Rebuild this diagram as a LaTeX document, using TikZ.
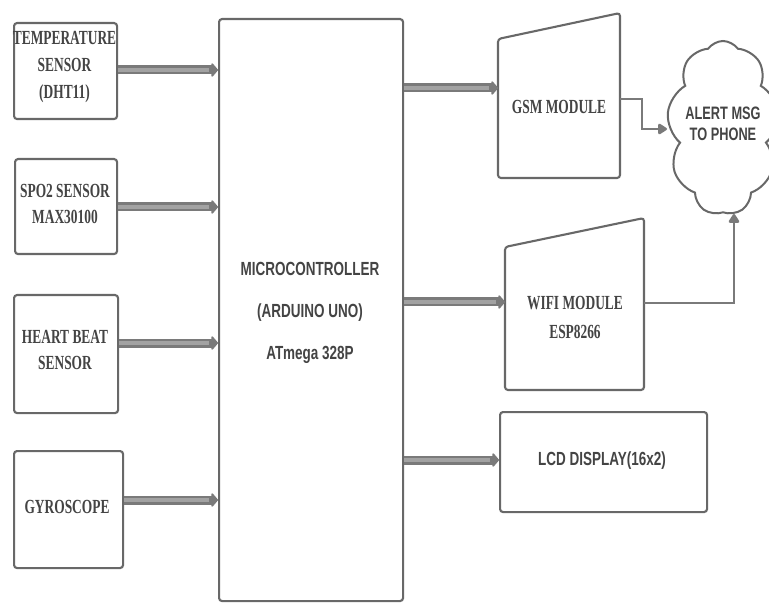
\documentclass[tikz,border=0pt]{standalone}
\usepackage{fontspec}
\usetikzlibrary{shapes.symbols,arrows.meta,calc}
\newfontfamily\serfont[FakeStretch=0.67]{Liberation Serif}
\newfontfamily\sanfont[FakeStretch=0.71]{Liberation Sans}
\definecolor{edgec}{HTML}{686868}
\definecolor{txtc}{HTML}{444444}
\definecolor{arrdark}{HTML}{7A7A7A}
\definecolor{arrlight}{HTML}{A2A2A2}
\begin{document}
\begin{tikzpicture}[x=1pt,y=-1pt,
  box/.style={draw=edgec, line width=2.1pt, rounded corners=3pt, fill=white},
  sertext/.style={font=\serfont\bfseries\fontsize{20}{26}\selectfont, text=txtc, align=center, inner sep=0pt},
  santext/.style={font=\sanfont\bfseries\fontsize{19}{42}\selectfont, text=txtc, align=center, inner sep=0pt},
  busout/.style={draw=arrdark, line width=9pt, -{Triangle[round,length=7pt,width=16pt]}},
  busin/.style={draw=arrlight, line width=4pt},
  link/.style={draw=arrdark, line width=2.6pt, -{Triangle[round,length=10pt,width=12pt]}}
]
\useasboundingbox (0,0) rectangle (769,604);
\fill[white] (0,0) rectangle (769,604);

% left sensor boxes
\node[box, anchor=north west, minimum width=103pt, minimum height=96pt] (temp) at (13,22) {};
\node[sertext, font=\serfont\bfseries\fontsize{20}{27}\selectfont] (temptxt) at (64.5,67) {TEMPERATURE\\SENSOR\\(DHT11)};
\node[box, anchor=north west, minimum width=102pt, minimum height=95pt] (spo) at (14,158) {};
\node[sertext] (spotxt) at (65,204) {SPO2 SENSOR\\MAX30100};
\node[box, anchor=north west, minimum width=104pt, minimum height=118pt] (heart) at (13,294) {};
\node[sertext] (hearttxt) at (65,350) {HEART BEAT\\SENSOR};
\node[box, anchor=north west, minimum width=109pt, minimum height=117pt] (gyro) at (13,450) {};
\node[sertext] (gyrotxt) at (67,507) {GYROSCOPE};

% microcontroller
\node[box, anchor=north west, minimum width=184pt, minimum height=582pt] (mcu) at (218,18) {};
\node[santext] (mcutxt) at (310,313) {MICROCONTROLLER\\(ARDUINO UNO)\\ATmega 328P};

% GSM module
\draw[box] (498,39) -- (620,13) -- (620,178) -- (498,178) -- cycle;
\node[sertext] (gsm) at (559,107) {GSM MODULE};
\coordinate (gsmW) at (498,88);
\coordinate (gsmE) at (620,99);

% WIFI module
\draw[box] (505,247) -- (644,218) -- (644,390) -- (505,390) -- cycle;
\node[sertext, font=\serfont\bfseries\fontsize{20}{29}\selectfont] (wifi) at (575,317) {WIFI MODULE\\ESP8266};
\coordinate (wifiW) at (505,302);
\coordinate (wifiE) at (644,303);

% LCD
\node[box, anchor=north west, minimum width=207pt, minimum height=100pt] (lcd) at (499,411) {};
\node[santext] (lcdtxt) at (602,461) {LCD DISPLAY(16x2)};

% cloud
\node[cloud, cloud puffs=9, cloud puff arc=110, cloud ignores aspect, draw=edgec, line width=2pt, fill=white,
      minimum width=112pt, minimum height=174pt, inner sep=0pt] (cloud) at (723,128) {};
\node[santext, font=\sanfont\bfseries\fontsize{18}{21}\selectfont] (cloudtxt) at (723,124) {ALERT MSG\\TO PHONE};

% helper coordinates for arrow rows
\coordinate (r1) at (0,70);
\coordinate (r2) at (0,207);
\coordinate (r3) at (0,343);
\coordinate (r4) at (0,500);
\coordinate (o1) at (0,88);
\coordinate (o2) at (0,302);
\coordinate (o3) at (0,460);

% input buses
\foreach \src/\row in {temp/r1, spo/r2, heart/r3, gyro/r4}{
  \draw[busout] (\src.east |- \row) -- (mcu.west |- \row);
  \draw[busin] (\src.east |- \row) -- ($(mcu.west |- \row)+(-9,0)$);
}
% output buses
\draw[busout] (mcu.east |- o1) -- (gsmW);
\draw[busin] (mcu.east |- o1) -- ($(gsmW)+(-9,0)$);
\draw[busout] (mcu.east |- o2) -- (wifiW);
\draw[busin] (mcu.east |- o2) -- ($(wifiW)+(-9,0)$);
\draw[busout] (mcu.east |- o3) -- (lcd.west |- o3);
\draw[busin] (mcu.east |- o3) -- ($(lcd.west |- o3)+(-9,0)$);

% links to cloud
\coordinate (b1) at (642,0);
\coordinate (b2) at (734,0);
\coordinate (cw) at (667,129);
\coordinate (cs) at (734,214);
\draw[link] (gsmE) -- (b1 |- gsmE) -- (b1 |- cw) -- (cw);
\draw[link] (wifiE) -- (b2 |- wifiE) -- (cs);
\end{tikzpicture}
\end{document}
